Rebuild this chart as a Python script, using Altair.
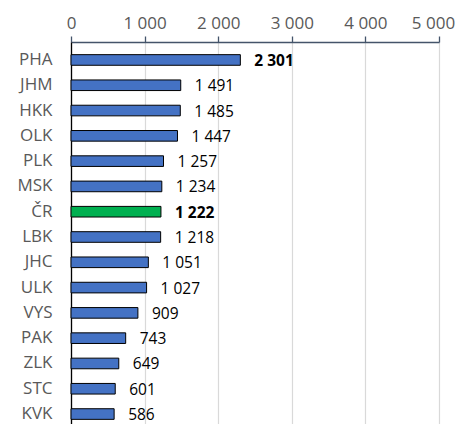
import altair as alt
import pandas as pd

regions = ["PHA", "JHM", "HKK", "OLK", "PLK", "MSK", "ČR", "LBK", "JHC", "ULK", "VYS", "PAK", "ZLK", "STC", "KVK"]
values = [2301, 1491, 1485, 1447, 1257, 1234, 1222, 1218, 1051, 1027, 909, 743, 649, 601, 586]
bold = ["PHA", "ČR"]
highlight = "ČR"

df = pd.DataFrame({"region": regions, "value": values})
df["is_cr"] = df["region"] == highlight
df["is_bold"] = df["region"].isin(bold)

FONT = "Open Sans"

base = alt.Chart(df).encode(
    y=alt.Y("region:N", sort=regions, title=None,
            scale=alt.Scale(paddingInner=0.58, paddingOuter=0.5),
            axis=alt.Axis(domainColor="#000000", domainWidth=1.3, ticks=False,
                          labelColor="#595959", labelFontSize=17, labelFont=FONT,
                          labelPadding=19, grid=False)),
)

bars = base.mark_bar(stroke="#000000", strokeWidth=1).encode(
    x=alt.X("value:Q", title=None,
            scale=alt.Scale(domain=[0, 5000], nice=False),
            axis=alt.Axis(orient="top", values=[0, 1000, 2000, 3000, 4000, 5000],
                          labelExpr="replace(format(datum.value, ','), ',', ' ')",
                          labelFlush=False, labelOverlap=False,
                          labelOffset={"condition": {"test": "datum.value == 5000", "value": -6}, "value": 0},
                          labelColor="#595959", labelFontSize=17, labelFont=FONT,
                          labelPadding=4, tickSize=6, tickColor="#44546A",
                          domainColor="#44546A", domainWidth=1.3, tickWidth=1.3,
                          gridColor="#D9D9D9", gridWidth=1.2)),
    color=alt.condition(alt.datum.is_cr, alt.value("#00B050"), alt.value("#4472C4")),
)

labels_txt = base.transform_calculate(
    lab="replace(format(datum.value, ','), ',', ' ')"
)

normal = labels_txt.transform_filter("!datum.is_bold").mark_text(
    align="left", baseline="middle", dx=14, dy=1, fontSize=15.5, font=FONT, color="#000000"
).encode(x="value:Q", text="lab:N")

boldl = labels_txt.transform_filter("datum.is_bold").mark_text(
    align="left", baseline="middle", dx=14, dy=1, fontSize=15.5, font=FONT, color="#000000",
    fontWeight="bold"
).encode(x="value:Q", text="lab:N")

chart = alt.layer(bars, normal, boldl).properties(
    width=368, height=390,
    autosize=alt.AutoSizeParams(type="none"),
    padding={"left": 63, "top": 34, "right": 17, "bottom": 0},
).configure_view(stroke=None)

chart.save("out.html", embed_options={"renderer": "svg", "actions": False})
